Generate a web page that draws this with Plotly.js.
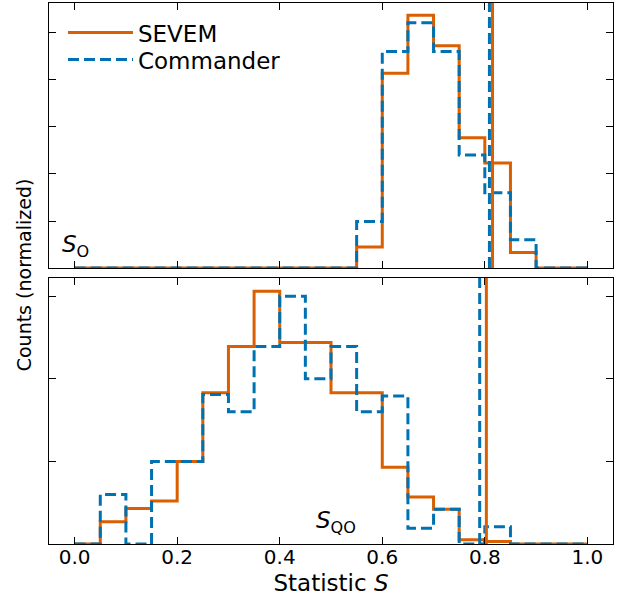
<!DOCTYPE html>
<html><head><meta charset="utf-8">
<script src="https://cdn.plot.ly/plotly-3.0.1.min.js"></script>
<style>html,body{margin:0;padding:0;background:#fff}#chart{width:622px;height:601px}</style>
</head><body><div id="chart"></div>
<script>
// Bin edges of the histograms (statistic S)
const binEdges = [0.00,0.05,0.10,0.15,0.20,0.25,0.30,0.35,0.40,0.45,0.50,
                  0.55,0.60,0.65,0.70,0.75,0.80,0.85,0.90,0.95,1.00];
// Top panel: S_O (normalized counts per bin)
const sevemO     = [0,0,0,0,0,0,0,0,0,0,0, 0.45,4.14,5.37,4.72,2.77,2.23,0.33,0,0];
const commanderO = [0,0,0,0,0,0,0,0,0,0,0, 0.99,4.60,5.21,4.60,2.40,1.60,0.60,0,0];
// Bottom panel: S_QO
const sevemQO     = [0,0.27,0.43,0.52,1.00,1.83,2.39,3.06,2.44,2.44,1.83,1.83,0.93,0.57,0.42,0.05,0.03,0,0,0];
const commanderQO = [0,0.60,0,1.00,1.00,1.81,1.60,2.39,3.00,2.00,2.39,1.60,1.79,0.19,0.42,0,0.21,0,0,0];
// Observed values (vertical lines)
const sevemObsO = 0.815, commanderObsO = 0.809;
const sevemObsQO = 0.803, commanderObsQO = 0.790;
// Tick labels
const xTickVals = [0.0,0.2,0.4,0.6,0.8,1.0];
const xTickText = ['0.0','0.2','0.4','0.6','0.8','1.0'];
const seriesNames = ['SEVEM','Commander'];

const ORANGE = '#d95f02', BLUE = '#0072b2';
const DASH = '11px,5px';
const FONT = 'DejaVu Sans, sans-serif';

function stepXY(edges, h){
  const x=[edges[0]], y=[0];
  for (let i=0;i<h.length;i++){ x.push(edges[i+1]); y.push(h[i]); }
  x.push(edges[edges.length-1]); y.push(0);
  return {x,y};
}
function stepTrace(h, color, dash, xa, ya, name, showlegend, legend){
  const s = stepXY(binEdges, h);
  return {type:'scatter', mode:'lines', x:s.x, y:s.y, xaxis:xa, yaxis:ya,
    line:{shape:'vh', color:color, width:3, dash:dash}, name:name,
    showlegend:showlegend, legend:legend, hoverinfo:'skip'};
}
const traces = [
  stepTrace(sevemO, ORANGE, 'solid', 'x2','y2', seriesNames[0], true, 'legend'),
  stepTrace(commanderO, BLUE, DASH, 'x2','y2', seriesNames[1], true, 'legend2'),
  stepTrace(sevemQO, ORANGE, 'solid', 'x','y', seriesNames[0], false, 'legend'),
  stepTrace(commanderQO, BLUE, DASH, 'x','y', seriesNames[1], false, 'legend2')
];

function vline(xv, xa, ya, color, dash){
  return {type:'line', xref:xa, yref:ya+' domain', x0:xv, x1:xv, y0:0, y1:1,
    line:{color:color, width:3, dash:dash}, layer:'above'};
}

const axStyle = {ticks:'inside', ticklen:7, tickwidth:1, tickcolor:'#000',
  showline:true, linecolor:'#000', linewidth:1.1, mirror:'ticks',
  showgrid:false, zeroline:false};

const legendStyle = {xanchor:'left', yanchor:'top', bgcolor:'rgba(0,0,0,0)',
    borderwidth:0, font:{size:23, family:FONT, color:'#000'}, itemwidth:65};

const layout = {
  width:622, height:601,
  margin:{l:49, r:9, t:3, b:57},
  paper_bgcolor:'#fff', plot_bgcolor:'#fff',
  font:{family:FONT, color:'#000'},
  showlegend:true,
  legend: Object.assign({}, legendStyle, {x:0.0248, y:0.985}),
  legend2: Object.assign({}, legendStyle, {x:0.0248, y:0.935}),
  xaxis: Object.assign({}, axStyle, {domain:[0,1], anchor:'y', range:[-0.05,1.05],
    tickvals:xTickVals, ticktext:xTickText, tickfont:{size:20, family:FONT, color:'#000'},
    ticklabelstandoff:-5,
    title:{text:'Statistic <i>S</i>', font:{size:23, family:FONT, color:'#000'}, standoff:6}}),
  xaxis2: Object.assign({}, axStyle, {domain:[0,1], anchor:'y2', matches:'x', range:[-0.05,1.05],
    tickvals:xTickVals, showticklabels:false}),
  yaxis: Object.assign({}, axStyle, {domain:[0,0.4917], anchor:'x', range:[0,3.22],
    tickvals:[0,1,2,3], showticklabels:false}),
  yaxis2: Object.assign({}, axStyle, {domain:[0.510,1], anchor:'x2', range:[0,5.63],
    tickvals:[0,1,2,3,4,5], showticklabels:false}),
  shapes:[
    vline(sevemObsO,'x2','y2',ORANGE,'solid'),
    vline(commanderObsO,'x2','y2',BLUE,DASH),
    vline(sevemObsQO,'x','y',ORANGE,'solid'),
    vline(commanderObsQO,'x','y',BLUE,DASH)
  ],
  annotations:[
    {text:'Counts (normalized)', xref:'paper', yref:'paper', x:-0.044, y:0.497,
     textangle:-90, showarrow:false, xanchor:'center', yanchor:'middle',
     font:{size:19, family:FONT, color:'#000'}},
    {text:'<i>S</i><sub>O</sub>', xref:'x2 domain', yref:'y2 domain', x:0.02, y:0.02,
     xanchor:'left', yanchor:'bottom', showarrow:false, font:{size:23, family:FONT, color:'#000'}},
    {text:'<i>S</i><sub>QO</sub>', xref:'x domain', yref:'y domain', x:0.47, y:0.02,
     xanchor:'left', yanchor:'bottom', showarrow:false, font:{size:23, family:FONT, color:'#000'}}
  ]
};

Plotly.newPlot('chart', traces, layout, {displayModeBar:false, staticPlot:true});
</script>
</body></html>
